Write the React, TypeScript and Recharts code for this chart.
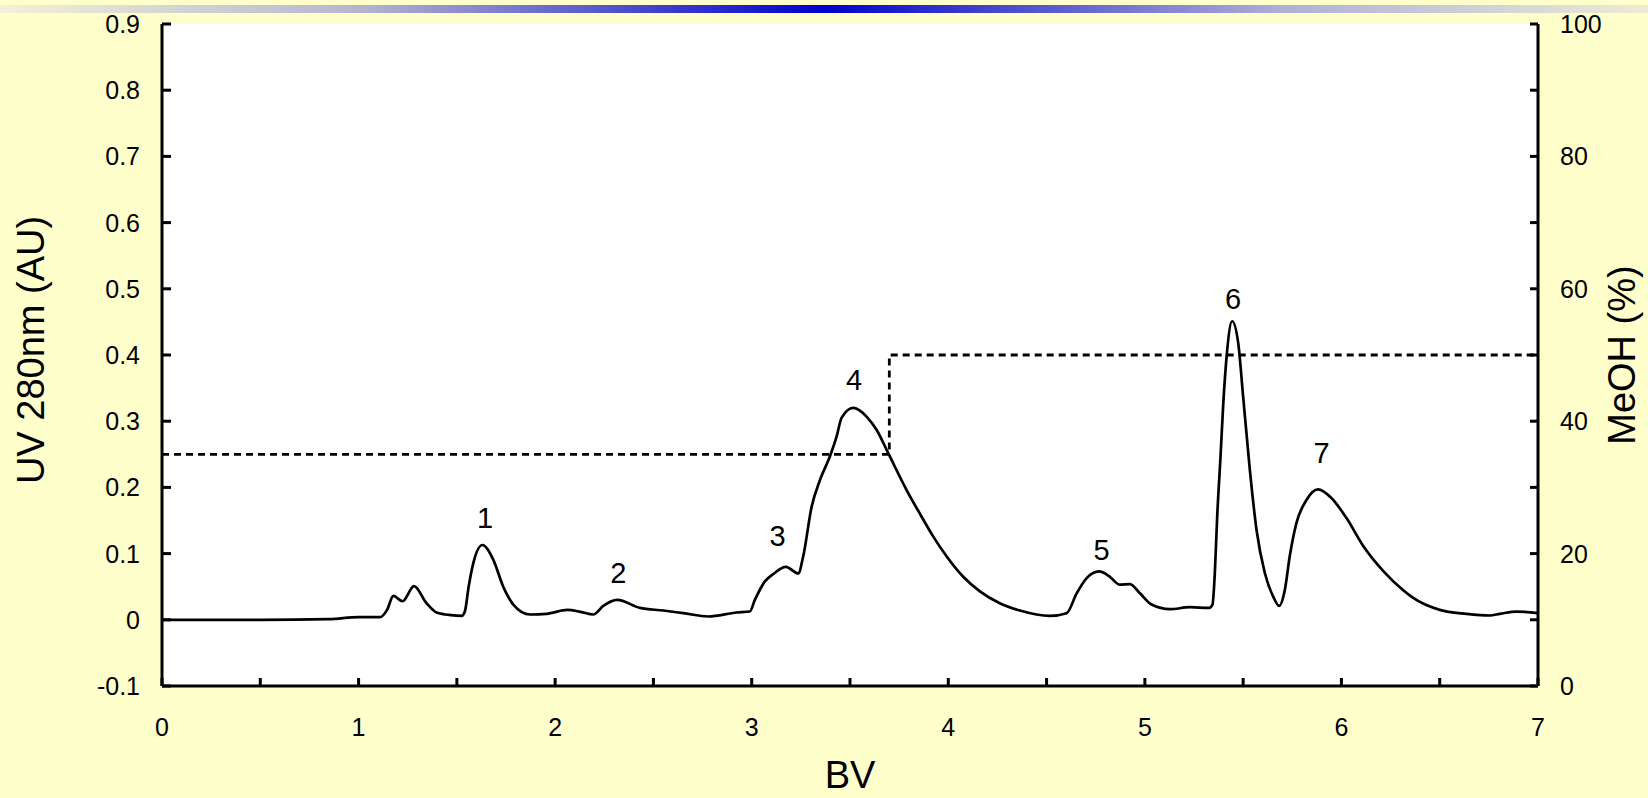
import React from 'react'
import {
  ComposedChart,
  Line,
  Scatter,
  XAxis,
  YAxis,
  ReferenceArea,
} from 'recharts'

// chromatogram trace (BV vs UV 280nm)
const bvValues = [
  0, 0.5, 0.85, 1.0, 1.11, 1.145, 1.177, 1.224, 1.282, 1.346, 1.397, 1.47, 1.524, 1.541, 1.56,
  1.584, 1.63, 1.685, 1.736, 1.787, 1.872, 1.957, 2.062, 2.13, 2.194, 2.245, 2.316, 2.431, 2.55,
  2.652, 2.779, 2.923, 2.99, 3.016, 3.067, 3.109, 3.174, 3.237, 3.262, 3.305, 3.347, 3.398, 3.432,
  3.457, 3.516, 3.584, 3.635, 3.694, 3.788, 3.856, 3.923, 3.991, 4.076, 4.161, 4.262, 4.364, 4.517,
  4.602, 4.653, 4.704, 4.768, 4.822, 4.873, 4.924, 4.975, 5.034, 5.127, 5.229, 5.327, 5.344, 5.356,
  5.368, 5.385, 5.399, 5.416, 5.444, 5.475, 5.5, 5.534, 5.568, 5.61, 5.653, 5.683, 5.712, 5.737,
  5.771, 5.822, 5.881, 5.949, 6.025, 6.11, 6.212, 6.313, 6.365, 6.5, 6.636, 6.755, 6.806, 6.891, 7.0,
]
const uvValues = [
  0, 0, 0.001, 0.004, 0.004, 0.015, 0.036, 0.028, 0.051, 0.025, 0.011, 0.007, 0.006, 0.013, 0.05,
  0.086, 0.113, 0.091, 0.05, 0.023, 0.008, 0.009, 0.015, 0.012, 0.008, 0.021, 0.03, 0.018, 0.014,
  0.01, 0.005, 0.011, 0.0125, 0.03, 0.058, 0.069, 0.08, 0.07, 0.096, 0.171, 0.211, 0.247, 0.277,
  0.305, 0.32, 0.307, 0.287, 0.252, 0.196, 0.16, 0.126, 0.096, 0.065, 0.043, 0.025, 0.014, 0.006,
  0.01, 0.04, 0.063, 0.073, 0.065, 0.053, 0.054, 0.04, 0.023, 0.016, 0.019, 0.018, 0.023, 0.071,
  0.156, 0.247, 0.327, 0.398, 0.451, 0.418, 0.337, 0.227, 0.136, 0.071, 0.035, 0.021, 0.045, 0.096,
  0.146, 0.181, 0.197, 0.184, 0.154, 0.112, 0.074, 0.045, 0.033, 0.015, 0.009, 0.0065, 0.009, 0.0125, 0.01,
]

// methanol step gradient
const meohBv = [0, 3.7, 3.7, 7]
const meohValues = [35, 35, 50, 50]

// peak number labels
const peakNames = ['1', '2', '3', '4', '5', '6', '7']
const peakBv = [1.643, 2.321, 3.132, 3.521, 4.78, 5.449, 5.899]
const peakUv = [0.154, 0.0715, 0.128, 0.363, 0.106, 0.486, 0.253]

const xTicks = [0, 0.5, 1, 1.5, 2, 2.5, 3, 3.5, 4, 4.5, 5, 5.5, 6, 6.5, 7]
const leftTicks = [-0.1, 0, 0.1, 0.2, 0.3, 0.4, 0.5, 0.6, 0.7, 0.8, 0.9]
const rightTicks = [0, 10, 20, 30, 40, 50, 60, 70, 80, 90, 100]

const uvData = bvValues.map((bv, i) => ({ bv, uv: uvValues[i] }))
const meohData = meohBv.map((bv, i) => ({ bv, meoh: meohValues[i] }))
const peakData = peakNames.map((name, i) => ({ bv: peakBv[i], uv: peakUv[i], name }))

const FONT = '"Liberation Sans", Arial, sans-serif'
const PLOT_LEFT = 162
const PLOT_RIGHT = 1538
const PLOT_BOTTOM = 686

const LeftTick = (props: any) => {
  const { y, payload } = props
  return (
    <g>
      <line x1={PLOT_LEFT} x2={PLOT_LEFT + 9} y1={y} y2={y} stroke="#000" strokeWidth={3} />
      <text x={140} y={y} dy="0.36em" textAnchor="end" fontSize={25} fontFamily={FONT} fill="#000">
        {String(payload.value)}
      </text>
    </g>
  )
}

const RightTick = (props: any) => {
  const { y, payload } = props
  return (
    <g>
      <line x1={PLOT_RIGHT - 8} x2={PLOT_RIGHT} y1={y} y2={y} stroke="#000" strokeWidth={3} />
      {payload.value % 20 === 0 && (
        <text x={1560} y={y} dy="0.36em" textAnchor="start" fontSize={25} fontFamily={FONT} fill="#000">
          {String(payload.value)}
        </text>
      )}
    </g>
  )
}

const BottomTick = (props: any) => {
  const { x, payload } = props
  return (
    <g>
      <line x1={x} x2={x} y1={PLOT_BOTTOM - 8} y2={PLOT_BOTTOM} stroke="#000" strokeWidth={3} />
      {Number.isInteger(payload.value) && (
        <text x={x} y={736} textAnchor="middle" fontSize={25} fontFamily={FONT} fill="#000">
          {String(payload.value)}
        </text>
      )}
    </g>
  )
}

const PeakLabel = (props: any) => {
  const { cx, cy, payload } = props
  return (
    <text x={cx} y={cy} dy="0.36em" textAnchor="middle" fontSize={29} fontFamily={FONT} fill="#000">
      {payload.name}
    </text>
  )
}

const titleStyle: React.CSSProperties = {
  position: 'absolute',
  fontFamily: FONT,
  fontSize: 38,
  color: '#000',
  whiteSpace: 'nowrap',
  lineHeight: 1,
}

export default function App() {
  return (
    <div
      style={{
        position: 'fixed',
        left: 0,
        top: 0,
        width: 1648,
        height: 798,
        background: '#FFFFCC',
        overflow: 'hidden',
      }}
    >
      <div
        style={{
          position: 'absolute',
          left: 0,
          top: 5,
          width: 1648,
          height: 8,
          background:
            'linear-gradient(to right, #f2f2d6 0%, #b4b4d0 22%, #3333cc 42%, #0000cc 50%, #4444cc 60%, #b0b0d8 78%, #ececd4 100%)',
        }}
      />
      <div style={{ position: 'absolute', left: 0, top: 0 }}>
        <ComposedChart width={1648} height={798} margin={{ top: 24, right: 0, bottom: 0, left: 0 }}>
          <XAxis
            dataKey="bv"
            type="number"
            domain={[0, 7]}
            ticks={xTicks}
            height={112}
            axisLine={{ stroke: '#000', strokeWidth: 3 }}
            tickLine={false}
            tick={<BottomTick />}
            interval={0}
            allowDataOverflow
          />
          <XAxis
            xAxisId="top"
            orientation="top"
            type="number"
            domain={[0, 7]}
            height={0}
            tick={false}
            tickLine={false}
            axisLine={{ stroke: '#000', strokeWidth: 3 }}
          />
          <YAxis
            type="number"
            domain={[-0.1, 0.9]}
            ticks={leftTicks}
            width={162}
            axisLine={{ stroke: '#000', strokeWidth: 3 }}
            tickLine={false}
            tick={<LeftTick />}
            interval={0}
            allowDataOverflow
          />
          <YAxis
            yAxisId="right"
            orientation="right"
            type="number"
            domain={[0, 100]}
            ticks={rightTicks}
            width={110}
            axisLine={{ stroke: '#000', strokeWidth: 3 }}
            tickLine={false}
            tick={<RightTick />}
            interval={0}
            allowDataOverflow
          />
          <ReferenceArea x1={0} x2={7} y1={-0.1} y2={0.9} fill="#ffffff" fillOpacity={1} stroke="none" />
          <Line
            data={meohData}
            dataKey="meoh"
            yAxisId="right"
            type="linear"
            stroke="#000"
            strokeWidth={2.8}
            strokeDasharray="7 5"
            dot={false}
            activeDot={false}
            isAnimationActive={false}
          />
          <Line
            data={uvData}
            dataKey="uv"
            type="monotone"
            stroke="#000"
            strokeWidth={2.7}
            dot={false}
            activeDot={false}
            isAnimationActive={false}
          />
          <Scatter data={peakData} dataKey="uv" shape={<PeakLabel />} isAnimationActive={false} />
        </ComposedChart>
      </div>
      <div style={{ ...titleStyle, left: 850, top: 775, transform: 'translate(-50%, -50%)' }}>BV</div>
      <div
        style={{ ...titleStyle, left: 31, top: 350, transform: 'translate(-50%, -50%) rotate(-90deg)' }}
      >
        UV 280nm (AU)
      </div>
      <div
        style={{ ...titleStyle, left: 1622, top: 355, transform: 'translate(-50%, -50%) rotate(-90deg)' }}
      >
        MeOH (%)
      </div>
    </div>
  )
}
